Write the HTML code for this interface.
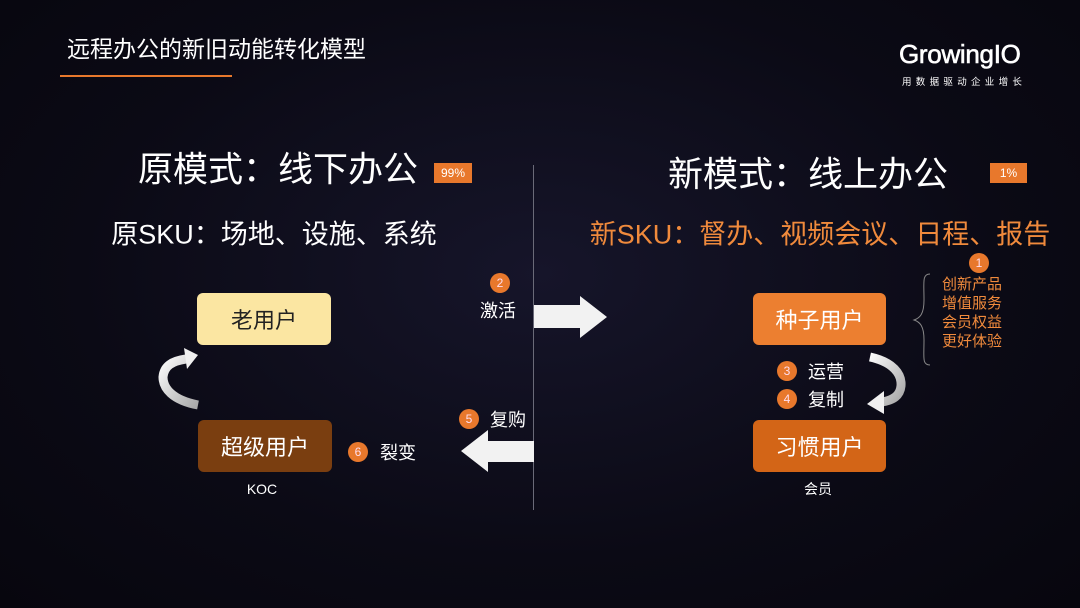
<!DOCTYPE html>
<html><head><meta charset="utf-8"><style>
*{margin:0;padding:0}
body{width:1080px;height:608px;overflow:hidden;background:radial-gradient(ellipse at 50% 45%,#16152a 0%,#0b0a15 60%,#07060e 100%);font-family:"Liberation Sans","Noto Sans CJK SC",sans-serif;color:#fff;position:relative}
.a{position:absolute;white-space:nowrap}
.c{position:absolute;transform:translate(-50%,-50%);white-space:nowrap}
.box{position:absolute;border-radius:6px;display:flex;align-items:center;justify-content:center;font-size:22px}
.n{position:absolute;width:20px;height:20px;border-radius:50%;background:#e8782c;color:#fde;font-size:12px;line-height:20px;text-align:center;transform:translate(-50%,-50%)}
.badge{position:absolute;background:#e8782c;color:#fff;font-size:12px;text-align:center;line-height:20px;height:20px}
</style></head><body>
<div class="a" style="left:67px;top:30px;font-size:23px">远程办公的新旧动能转化模型</div>
<div class="a" style="left:60px;top:75px;width:172px;height:2px;background:#e8782c"></div>
<div class="a" style="left:899px;top:39px;font-size:26px;letter-spacing:-0.3px;-webkit-text-stroke:0.6px #fff">GrowingIO</div>
<div class="a" style="left:902px;top:74px;font-size:9.5px;letter-spacing:4.3px">用数据驱动企业增长</div>

<div class="c" style="left:278px;top:167px;font-size:35px">原模式：线下办公</div>
<div class="badge" style="left:434px;top:163px;width:38px">99%</div>
<div class="c" style="left:808px;top:172px;font-size:35px">新模式：线上办公</div>
<div class="badge" style="left:990px;top:163px;width:37px">1%</div>
<div class="c" style="left:274px;top:232px;font-size:27px">原SKU：场地、设施、系统</div>
<div class="c" style="left:820px;top:232px;font-size:27px;color:#f08a3c">新SKU：督办、视频会议、日程、报告</div>

<div class="a" style="left:533px;top:165px;width:1px;height:345px;background:#6a6a78"></div>

<div class="box" style="left:197px;top:293px;width:134px;height:52px;background:#fbe6a2;color:#222">老用户</div>
<div class="box" style="left:198px;top:420px;width:134px;height:52px;background:#7a3e10">超级用户</div>
<div class="box" style="left:753px;top:293px;width:133px;height:52px;background:#ec7f30">种子用户</div>
<div class="box" style="left:753px;top:420px;width:133px;height:52px;background:#d36517">习惯用户</div>
<div class="c" style="left:262px;top:489px;font-size:14px">KOC</div>
<div class="c" style="left:818px;top:489px;font-size:14px">会员</div>

<svg class="a" style="left:0;top:0" width="1080" height="608">
<defs><linearGradient id="g" x1="0" y1="0" x2="1" y2="1"><stop offset="0" stop-color="#fafafa"/><stop offset="1" stop-color="#a8a8a8"/></linearGradient></defs>
<polygon points="534,305 580,305 580,296 607,317 580,338 580,328 534,328" fill="#f2f2f2"/>
<polygon points="534,441 488,441 488,430 461,451 488,472 488,462 534,462" fill="#f2f2f2"/>
<path d="M198,405 C172,400 163,388 163,377 C164,366 172,361 186,359" fill="none" stroke="url(#g)" stroke-width="9"/>
<polygon points="184,348 198,355 187,369" fill="#f0f0f0"/>
<path d="M870,357 C893,362 902,374 901,386 C900,396 893,400 882,402" fill="none" stroke="url(#g)" stroke-width="9"/>
<polygon points="884,391 867,404 884,414" fill="#f0f0f0"/>
<path d="M930,274 C922,274 924,282 924,300 C924,314 920,318 914,320 C920,322 924,326 924,340 C924,358 922,365 930,365" fill="none" stroke="#888" stroke-width="1"/>
</svg>

<div class="n" style="left:500px;top:283px">2</div>
<div class="c" style="left:498px;top:310px;font-size:18px">激活</div>
<div class="n" style="left:469px;top:419px">5</div>
<div class="c" style="left:508px;top:419px;font-size:18px">复购</div>
<div class="n" style="left:358px;top:452px">6</div>
<div class="c" style="left:398px;top:452px;font-size:18px">裂变</div>
<div class="n" style="left:787px;top:371px">3</div>
<div class="c" style="left:826px;top:371px;font-size:18px">运营</div>
<div class="n" style="left:787px;top:399px">4</div>
<div class="c" style="left:826px;top:399px;font-size:18px">复制</div>
<div class="n" style="left:979px;top:263px">1</div>
<div class="a" style="left:942px;top:275px;font-size:15px;line-height:19px;color:#f08a3c">创新产品<br>增值服务<br>会员权益<br>更好体验</div>
</body></html>
